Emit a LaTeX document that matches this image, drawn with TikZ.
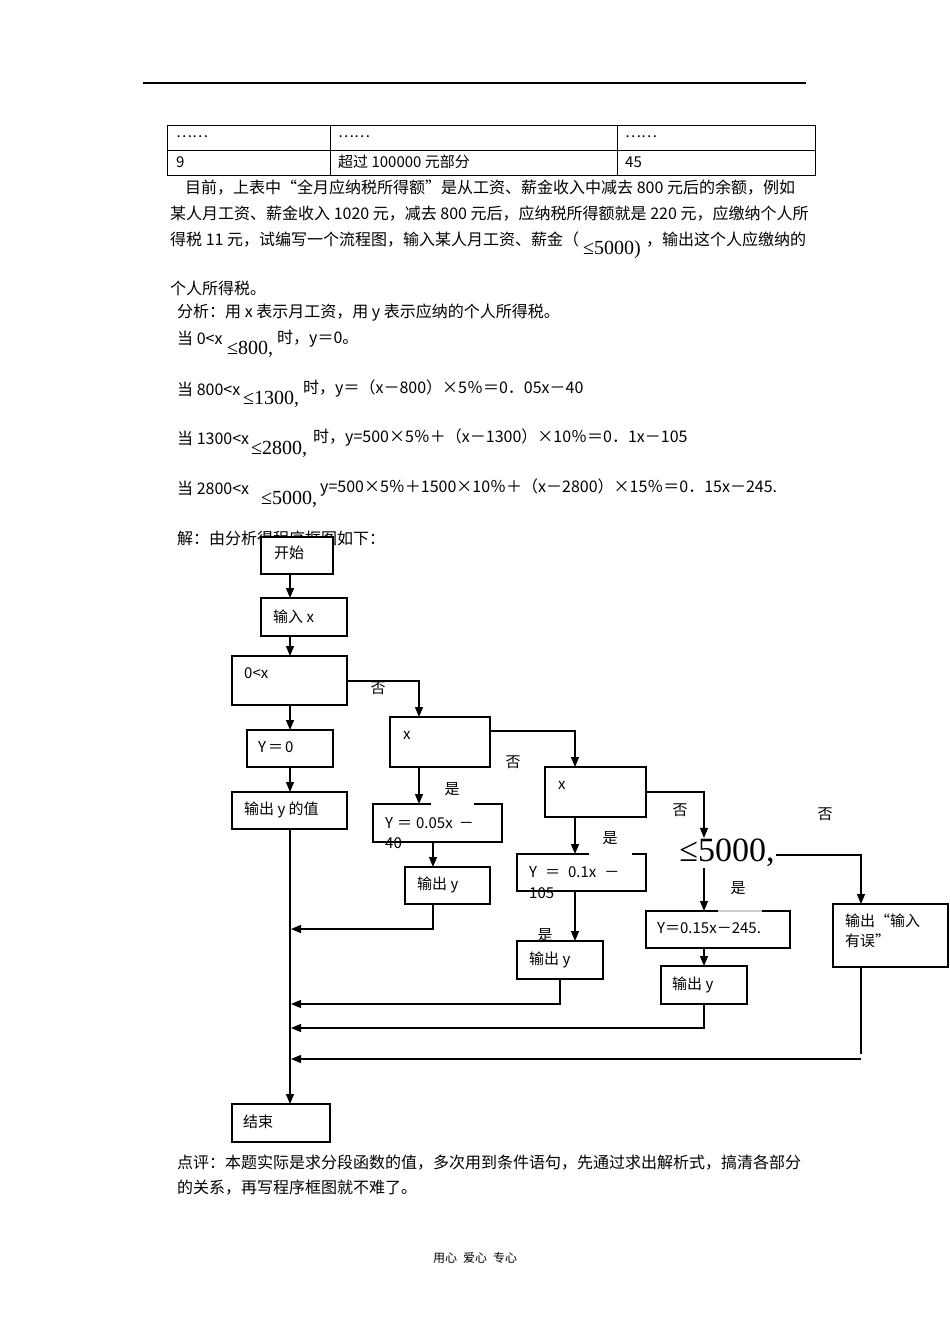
\documentclass[tikz,border=0pt]{standalone}
\usepackage{fontspec}
\setmainfont{Noto Sans CJK SC}
\newfontfamily\cjk{Noto Sans CJK SC}
\newfontfamily\tms{Liberation Serif}
\usetikzlibrary{arrows.meta}
\newcommand\mybox[5]{\node[box, anchor=north west, minimum width={#4-#2}, minimum height={#5-#3}] (#1) at (#2,#3) {};}
\begin{document}
\begin{tikzpicture}[x=1pt,y=-1pt,
  box/.style={draw, line width=1.2pt, inner sep=0pt, outer sep=0pt, fill=white},
  txt/.style={anchor=west, inner sep=0pt, font=\cjk\fontsize{16}{16}\selectfont},
  ftxt/.style={anchor=west, inner sep=0pt, font=\cjk\fontsize{15}{15}\selectfont},
  lbl/.style={anchor=center, inner sep=0pt, font=\cjk\fontsize{15}{15}\selectfont},
  ser/.style={anchor=west, inner sep=0pt, font=\tms\fontsize{20}{20}\selectfont},
  tbl/.style={anchor=west, inner sep=0pt, font=\cjk\fontsize{15}{15}\selectfont},
  arr/.style={line width=1.2pt, -{Triangle[length=10pt,width=8pt]}},
  ln/.style={line width=1.2pt}]
\fill[white] (0,0) rectangle (950,1344);
\useasboundingbox (0,0) rectangle (950,1344);
% header line
\draw[line width=1.4pt] (143,83) -- (806,83);
% table
\draw[line width=1pt] (167,125) rectangle (815,175);
\draw[line width=1pt] (167,150) -- (815,150);
\draw[line width=1pt] (330,125) -- (330,175);
\draw[line width=1pt] (617,125) -- (617,175);
\node[tbl] (t11) at (176,137) {……};
\node[tbl] (t12) at (338,137) {……};
\node[tbl] (t13) at (625,137) {……};
\node[tbl] (t21) at (176,162) {9};
\node[tbl] (t22) at (338,162) {超过 100000 元部分};
\node[tbl] (t23) at (625,162) {45};
% paragraph
\node[txt] (p1) at (185,188) {目前，上表中“全月应纳税所得额”是从工资、薪金收入中减去 800 元后的余额，例如};
\node[txt] (p2) at (170,214) {某人月工资、薪金收入 1020 元，减去 800 元后，应纳税所得额就是 220 元，应缴纳个人所};
\node[txt] (p3) at (170,240) {得税 11 元，试编写一个流程图，输入某人月工资、薪金（};
\node[ser] (p3b) at (583,250) {≤5000)};
\node[txt] (p3c) at (646,240) {，输出这个人应缴纳的};
\node[txt] (p4) at (170,288) {个人所得税。};
\node[txt] (a0) at (177,313) {分析：用 x 表示月工资，用 y 表示应纳的个人所得税。};
\node[txt] (a1) at (177,338) {当 0<x};
\node[ser] (a1b) at (227,349) {≤800,};
\node[txt] (a1c) at (277,339) {时，y＝0。};
\node[txt] (a2) at (177,389) {当 800<x};
\node[ser] (a2b) at (243,399) {≤1300,};
\node[txt] (a2c) at (303,389) {时，y＝（x－800）×5％＝0．05x－40};
\node[txt] (a3) at (177,438) {当 1300<x};
\node[ser] (a3b) at (251,449) {≤2800,};
\node[txt] (a3c) at (313,438) {时，y=500×5％＋（x－1300）×10％＝0．1x－105};
\node[txt] (a4) at (177,488) {当 2800<x};
\node[ser] (a4b) at (261,499) {≤5000,};
\node[txt] (a4c) at (320,488) {y=500×5％＋1500×10％＋（x－2800）×15％＝0．15x－245.};
\node[txt] (sol) at (177,538) {解：由分析得程序框图如下：};
% boxes
\mybox{start}{261}{537}{333}{574}
\mybox{inp}{261}{598}{347}{636}
\mybox{c1}{232}{656}{347}{705}
\mybox{y0}{247}{730}{333}{767}
\mybox{out0}{232}{792}{347}{829}
\mybox{c2}{390}{717}{490}{767}
\mybox{y05}{373}{804}{502}{842}
\mybox{o1}{405}{867}{490}{904}
\mybox{c3}{545}{767}{646}{817}
\mybox{y01}{517}{854}{646}{891}
\mybox{o2}{517}{941}{603}{979}
\mybox{y15}{646}{911}{790}{948}
\mybox{o3}{661}{966}{747}{1004}
\mybox{err}{833}{904}{948}{967}
\mybox{endb}{232}{1104}{330}{1142}
% gaps / light segments on top edges
\fill[white] (431,802) rectangle (474,806.5);
\fill[white] (589,852) rectangle (632,856.5);
\draw[line width=1.2pt, gray!40] (718,911) -- (762,911);
% box texts
\node[ftxt] (tstart) at (274,553) {开始};
\node[ftxt] (tinp) at (273,617) {输入 x};
\node[ftxt] (tc1) at (244,673) {0<x};
\node[ftxt] (ty0) at (258,747) {Y\hspace{2pt}＝\hspace{2pt}0};
\node[ftxt] (tout0) at (244,810) {输出 y 的值};
\node[ftxt] (tc2) at (403,735) {x};
\node[ftxt] (ty05) at (385,823) {Y\hspace{4pt}＝\hspace{4pt}0.05x\hspace{6pt}－};
\node[ftxt] (ty05b) at (385,843) {40};
\node[ftxt] (to1) at (417,885) {输出 y};
\node[ftxt] (tc3) at (558,785) {x};
\node[ftxt] (ty01) at (529,872) {Y\hspace{8pt}＝\hspace{8pt}0.1x\hspace{8pt}－};
\node[ftxt] (ty01b) at (529,893) {105};
\node[ftxt] (to2) at (529,960) {输出 y};
\node[ftxt] (ty15) at (657,928) {Y＝0.15x－245.};
\node[ftxt] (to3) at (672,985) {输出 y};
\node[ftxt] (terr) at (845,921) {输出“输入};
\node[ftxt] (terr2) at (845,941) {有误”};
\node[ftxt] (tend) at (243,1122) {结束};
% decision ≤5000
\node[anchor=center, inner sep=1pt, font=\tms\fontsize{34}{34}\selectfont] (c4) at (727,853) {≤5000,};
% labels
\node[lbl] (l1) at (378,688) {否};
\node[lbl] (l2) at (513,762) {否};
\node[lbl] (l3) at (452,789) {是};
\node[lbl] (l4) at (610,838) {是};
\node[lbl] (l5) at (680,810) {否};
\node[lbl] (l6) at (825,814) {否};
\node[lbl] (l7) at (738,888) {是};
\node[lbl] (l8) at (545,935) {是};
% coordinates
\coordinate (col0) at (290,0);
\coordinate (col1) at (419,0);
\coordinate (col1b) at (433,0);
\coordinate (col2) at (575,0);
\coordinate (col2b) at (560,0);
\coordinate (col3) at (704,0);
\coordinate (col4) at (861,0);
\coordinate (r1) at (0,681);
\coordinate (r2) at (0,731);
\coordinate (r3) at (0,792);
\coordinate (r4) at (0,855);
\coordinate (m1) at (291,929);
\coordinate (m2) at (291,1004);
\coordinate (m3) at (291,1028);
\coordinate (m4) at (291,1059);
\coordinate (e1) at (861,1054);
\coordinate (e2) at (861,1059);
% connectors
\draw[arr] (col0 |- start.south) -- (col0 |- inp.north);
\draw[arr] (col0 |- inp.south) -- (col0 |- c1.north);
\draw[arr] (col0 |- c1.south) -- (col0 |- y0.north);
\draw[arr] (col0 |- y0.south) -- (col0 |- out0.north);
\draw[arr] (col0 |- out0.south) -- (col0 |- endb.north);
\draw[arr] (c1.east |- r1) -| (col1 |- c2.north);
\draw[arr] (c2.east |- r2) -| (col2 |- c3.north);
\draw[arr] (c3.east |- r3) -| (col3 |- c4.north);
\draw[arr] (c4.east |- r4) -| (col4 |- err.north);
\draw[arr] (col1 |- c2.south) -- (col1 |- y05.north);
\draw[arr] (col1b |- y05.south) -- (col1b |- o1.north);
\draw[arr] (col2 |- c3.south) -- (col2 |- y01.north);
\draw[arr] (col2 |- y01.south) -- (col2 |- o2.north);
\draw[arr] (col3 |- c4.south) -- (col3 |- y15.north);
\draw[arr] (col3 |- y15.south) -- (col3 |- o3.north);
\draw[arr] (col1b |- o1.south) |- (m1);
\draw[arr] (col2b |- o2.south) |- (m2);
\draw[arr] (col3 |- o3.south) |- (m3);
\draw[ln] (col4 |- err.south) -- (e1);
\draw[arr] (e2) -- (m4);
% bottom text
\node[txt] (b1) at (177,1163) {点评：本题实际是求分段函数的值，多次用到条件语句，先通过求出解析式，搞清各部分};
\node[txt] (b2) at (177,1188) {的关系，再写程序框图就不难了。};
\node[anchor=center, inner sep=0pt, font=\cjk\fontsize{12}{12}\selectfont] (foot) at (475,1258) {用心\hspace{6pt}爱心\hspace{6pt}专心};
\end{tikzpicture}
\end{document}
